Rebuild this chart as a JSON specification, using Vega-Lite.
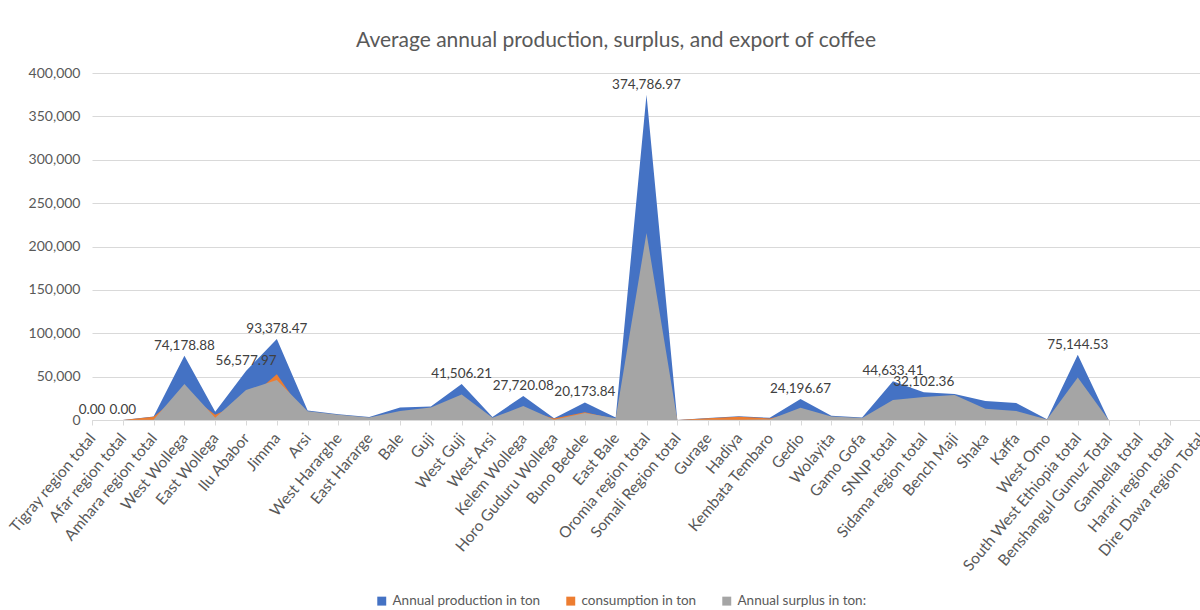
{
  "$schema": "https://vega.github.io/schema/vega-lite/v6.json",
  "width": 1108,
  "height": 347,
  "autosize": {"type": "none"},
  "padding": {"left": 92, "top": 73, "right": 0, "bottom": 190},
  "background": "white",
  "config": {
    "font": "Lato, sans-serif",
    "view": {"stroke": null},
    "axis": {"labelColor": "#595959", "titleColor": "#595959"},
    "title": {"fontSize": 21, "fontWeight": "normal", "color": "#595959", "anchor": "middle", "offset": 15, "dx": -30}
  },
  "title": "Average annual production, surplus, and export of coffee",
  "data": {"values": [
    {"region": "Tigray region total", "production": 0, "consumption": 0, "surplus": 0, "labeled": true},
    {"region": "Afar region total", "production": 0, "consumption": 0, "surplus": 0, "labeled": true},
    {"region": "Amhara region total", "production": 4000, "consumption": 3800, "surplus": 300, "labeled": false},
    {"region": "West Wollega", "production": 74178.88, "consumption": 32700, "surplus": 41500, "labeled": true},
    {"region": "East Wollega", "production": 9500, "consumption": 6000, "surplus": 2500, "labeled": false},
    {"region": "Ilu Ababor", "production": 56577.97, "consumption": 22000, "surplus": 34600, "labeled": true},
    {"region": "Jimma", "production": 93378.47, "consumption": 52700, "surplus": 46000, "labeled": true},
    {"region": "Arsi", "production": 11000, "consumption": 1000, "surplus": 10000, "labeled": false},
    {"region": "West Hararghe", "production": 6500, "consumption": 500, "surplus": 6000, "labeled": false},
    {"region": "East Hararge", "production": 3500, "consumption": 500, "surplus": 3000, "labeled": false},
    {"region": "Bale", "production": 14500, "consumption": 3500, "surplus": 10500, "labeled": false},
    {"region": "Guji", "production": 15500, "consumption": 1000, "surplus": 14500, "labeled": false},
    {"region": "West Guji", "production": 41506.21, "consumption": 12000, "surplus": 29500, "labeled": true},
    {"region": "West Arsi", "production": 3500, "consumption": 1000, "surplus": 2500, "labeled": false},
    {"region": "Kelem Wollega", "production": 27720.08, "consumption": 11700, "surplus": 16000, "labeled": true},
    {"region": "Horo Guduru Wollega", "production": 2000, "consumption": 1600, "surplus": 400, "labeled": false},
    {"region": "Buno Bedele", "production": 20173.84, "consumption": 8800, "surplus": 8000, "labeled": true},
    {"region": "East Bale", "production": 3000, "consumption": 1000, "surplus": 2000, "labeled": false},
    {"region": "Oromia region total", "production": 374786.97, "consumption": 159000, "surplus": 215700, "labeled": true},
    {"region": "Somali Region total", "production": 0, "consumption": 0, "surplus": 0, "labeled": false},
    {"region": "Gurage", "production": 2200, "consumption": 1900, "surplus": 300, "labeled": false},
    {"region": "Hadiya", "production": 4200, "consumption": 3800, "surplus": 400, "labeled": false},
    {"region": "Kembata Tembaro", "production": 2500, "consumption": 1800, "surplus": 700, "labeled": false},
    {"region": "Gedio", "production": 24196.67, "consumption": 10000, "surplus": 14000, "labeled": true},
    {"region": "Wolayita", "production": 5000, "consumption": 1000, "surplus": 4000, "labeled": false},
    {"region": "Gamo Gofa", "production": 3000, "consumption": 700, "surplus": 2300, "labeled": false},
    {"region": "SNNP total", "production": 44633.41, "consumption": 21600, "surplus": 23000, "labeled": true},
    {"region": "Sidama region total", "production": 32102.36, "consumption": 6000, "surplus": 26500, "labeled": true},
    {"region": "Bench Maji", "production": 30000, "consumption": 1500, "surplus": 28800, "labeled": false},
    {"region": "Shaka", "production": 22000, "consumption": 9000, "surplus": 13000, "labeled": false},
    {"region": "Kaffa", "production": 19500, "consumption": 9000, "surplus": 10500, "labeled": false},
    {"region": "West Omo", "production": 800, "consumption": 300, "surplus": 500, "labeled": false},
    {"region": "South West Ethiopia total", "production": 75144.53, "consumption": 26000, "surplus": 49000, "labeled": true},
    {"region": "Benshangul Gumuz Total", "production": 0, "consumption": 0, "surplus": 0, "labeled": false},
    {"region": "Gambella total", "production": 0, "consumption": 0, "surplus": 0, "labeled": false},
    {"region": "Harari region total", "production": 0, "consumption": 0, "surplus": 0, "labeled": false},
    {"region": "Dire Dawa region Total", "production": 0, "consumption": 0, "surplus": 0, "labeled": false}
  ]},
  "encoding": {
    "x": {
      "field": "region", "type": "nominal", "sort": null,
      "scale": {"type": "point", "range": [0, 1109], "padding": 0},
      "axis": {
        "title": null, "labelAngle": -50, "labelPadding": 10, "labelFontSize": 15.5,
        "domainColor": "#D9D9D9", "tickColor": "#D9D9D9", "tickSize": 5, "grid": false,
        "labelOverlap": false, "labelLimit": 300
      }
    }
  },
  "layer": [
    {
      "mark": {"type": "area", "opacity": 1, "interpolate": "linear"},
      "encoding": {
        "y": {
          "field": "production", "type": "quantitative",
          "scale": {"domain": [0, 400000], "nice": false},
          "axis": {
            "title": null, "format": ",.0f", "values": [0, 50000, 100000, 150000, 200000, 250000, 300000, 350000, 400000],
            "domain": false, "ticks": false, "labelPadding": 12, "labelFontSize": 14, "gridColor": "#D9D9D9", "gridWidth": 1
          }
        },
        "color": {
          "datum": "Annual production in ton",
          "scale": {
            "domain": ["Annual production in ton", "consumption in ton", "Annual surplus in ton:"],
            "range": ["#4472C4", "#ED7D31", "#A5A5A5"]
          },
          "legend": {
            "title": null, "orient": "none", "direction": "horizontal",
            "legendX": 283, "legendY": 521,
            "symbolType": "square", "symbolSize": 80, "symbolStrokeWidth": 0,
            "labelFontSize": 13.5, "labelColor": "#595959", "columnPadding": 23, "labelOffset": 4, "labelLimit": 300
          }
        }
      }
    },
    {
      "mark": {"type": "area", "opacity": 1, "interpolate": "linear"},
      "encoding": {
        "y": {"field": "consumption", "type": "quantitative"},
        "color": {"datum": "consumption in ton"}
      }
    },
    {
      "mark": {"type": "area", "opacity": 1, "interpolate": "linear"},
      "encoding": {
        "y": {"field": "surplus", "type": "quantitative"},
        "color": {"datum": "Annual surplus in ton:"}
      }
    },
    {
      "transform": [{"filter": "datum.labeled"}],
      "mark": {"type": "text", "baseline": "bottom", "dy": -3, "fontSize": 13.5, "color": "#404040"},
      "encoding": {
        "y": {"field": "production", "type": "quantitative"},
        "text": {"field": "production", "type": "quantitative", "format": ",.2f"}
      }
    }
  ]
}
